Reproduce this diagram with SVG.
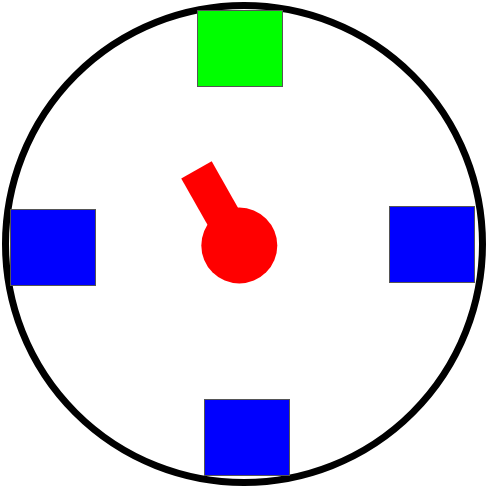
<svg xmlns="http://www.w3.org/2000/svg" width="488" height="488" viewBox="0 0 488 488">
<style>
.box{stroke:#555;stroke-width:1}
.blue{fill:#0000ff}
.green{fill:#00ff00}
</style>
<rect width="488" height="488" fill="#fff"/>
<g id="arena"><circle cx="244" cy="244" r="238.5" fill="none" stroke="#000" stroke-width="7"/></g>
<g id="target-top"><rect class="box green" x="197.5" y="10.5" width="85" height="76"/></g>
<g id="block-left"><rect class="box blue" x="10.5" y="209.5" width="85" height="76"/></g>
<g id="block-right"><rect class="box blue" x="389.5" y="206.5" width="85" height="76"/></g>
<g id="block-bottom"><rect class="box blue" x="204.5" y="399.5" width="85" height="76"/></g>
<g id="turret" fill="#ff0000">
<rect x="-17.5" y="-87" width="35" height="87" transform="translate(239.3 245.5) rotate(-29.5)"/>
<circle cx="239.3" cy="245.5" r="38"/>
</g>
</svg>
